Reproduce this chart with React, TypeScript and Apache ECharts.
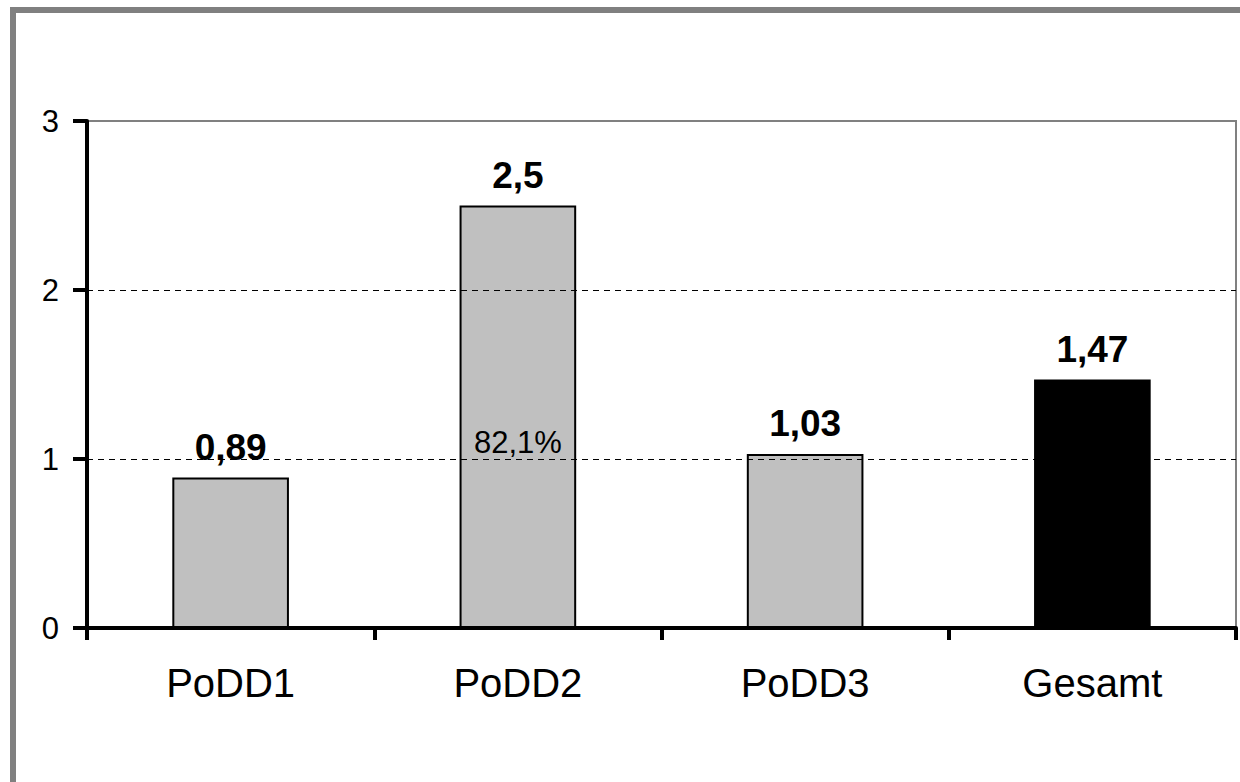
import React, { useEffect, useRef } from "react";
import * as echarts from "echarts";

const categories = ["PoDD1", "PoDD2", "PoDD3", "Gesamt"];
const values = [0.89, 2.5, 1.03, 1.47];
const valueLabels = ["0,89", "2,5", "1,03", "1,47"];
const barColors = ["#C0C0C0", "#C0C0C0", "#C0C0C0", "#000000"];
const innerLabelCategory = "PoDD2";
const innerLabelValue = 1.1;
const innerLabelText = "82,1%";
const yTicks = [0, 1, 2, 3];

const FONT = "'Liberation Sans', Arial, sans-serif";

export default function App() {
  const ref = useRef<HTMLDivElement>(null);
  useEffect(() => {
    if (!ref.current) return;
    const chart = echarts.init(ref.current, null, { renderer: "svg" });
    chart.setOption({
      animation: false,
      backgroundColor: "#ffffff",
      textStyle: { fontFamily: FONT },
      graphic: [
        {
          type: "rect",
          shape: { x: 13, y: 10, width: 1400, height: 1000 },
          style: { fill: "none", stroke: "#808080", lineWidth: 6 },
          silent: true,
          z: 100,
        },
      ],
      grid: {
        left: 87,
        right: 4,
        top: 121,
        bottom: 154,
        show: true,
        borderColor: "#808080",
        borderWidth: 2,
        backgroundColor: "transparent",
      },
      xAxis: {
        type: "category",
        data: categories,
        boundaryGap: true,
        axisLine: { show: true, lineStyle: { color: "#000", width: 4 } },
        axisTick: { show: true, length: 12, lineStyle: { color: "#000", width: 4 } },
        axisLabel: { color: "#000", fontSize: 40, fontFamily: FONT, margin: 35 },
        splitLine: { show: false },
        z: 10,
      },
      yAxis: {
        type: "value",
        min: yTicks[0],
        max: yTicks[yTicks.length - 1],
        interval: 1,
        axisLine: { show: true, lineStyle: { color: "#000", width: 4 } },
        axisTick: { show: true, length: 14, lineStyle: { color: "#000", width: 4 } },
        axisLabel: { color: "#000", fontSize: 31, fontFamily: FONT, margin: 28 },
        splitLine: {
          show: true,
          showMinLine: false,
          showMaxLine: false,
          lineStyle: { color: "#000", width: 1, type: [6, 5] },
        },
        z: 10,
      },
      series: [
        {
          type: "bar",
          barWidth: "40.6%",
          data: values.map((v, i) => ({
            value: v,
            itemStyle: { color: barColors[i], borderColor: "#000", borderWidth: 2 },
            label: { formatter: valueLabels[i] },
          })),
          label: {
            show: true,
            position: "top",
            distance: 12,
            color: "#000",
            fontSize: 37,
            fontWeight: "bold",
            fontFamily: FONT,
          },
          markPoint: {
            symbol: "circle",
            symbolSize: 0,
            itemStyle: { color: "transparent" },
            label: {
              show: true,
              position: "inside",
              color: "#000",
              fontSize: 31,
              fontFamily: FONT,
              formatter: innerLabelText,
            },
            data: [{ coord: [innerLabelCategory, innerLabelValue] }],
          },
        },
      ],
    });
    return () => chart.dispose();
  }, []);
  return (
    <div
      ref={ref}
      style={{ position: "fixed", left: 0, top: 0, width: 1240, height: 782, background: "#fff" }}
    />
  );
}
